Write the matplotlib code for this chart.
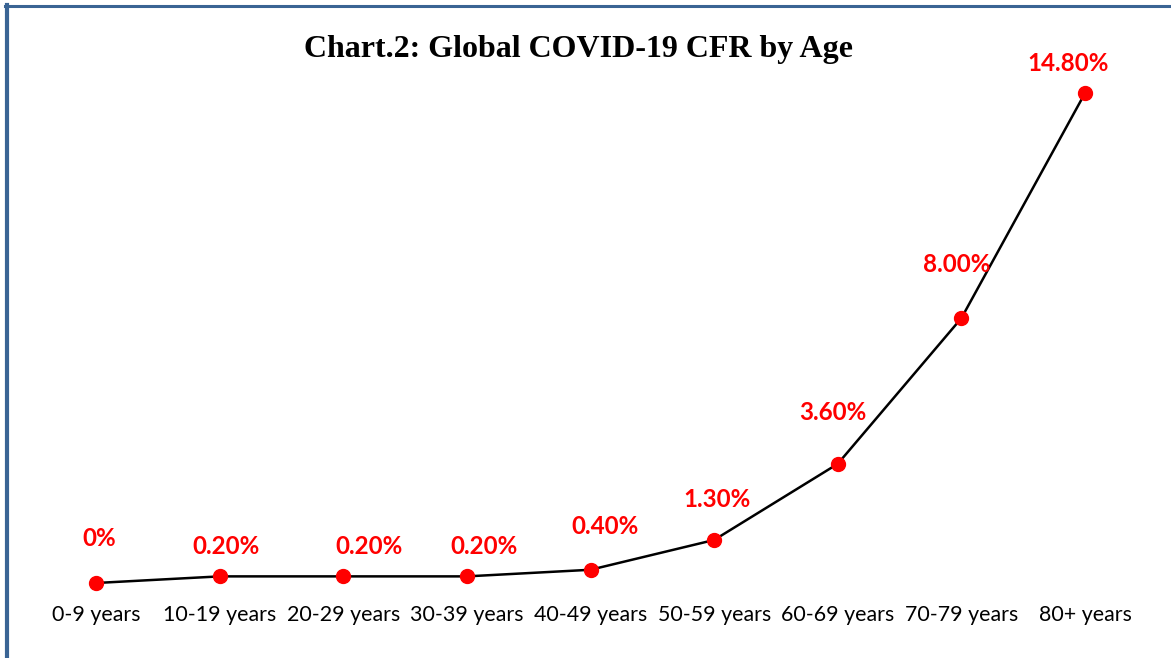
import matplotlib
matplotlib.use("Agg")
import matplotlib.pyplot as plt
from matplotlib.lines import Line2D

# 数据
age_groups = ["0-9 years", "10-19 years", "20-29 years", "30-39 years", "40-49 years",
              "50-59 years", "60-69 years", "70-79 years", "80+ years"]
cfr_pct = [0.0, 0.2, 0.2, 0.2, 0.4, 1.3, 3.6, 8.0, 14.8]
cfr_labels = ["0%", "0.20%", "0.20%", "0.20%", "0.40%", "1.30%", "3.60%", "8.00%", "14.80%"]

# 标签偏移 (像素, 手动放置)
label_dx = [3, 6, 26, 17, 14, 3, -5, -5, -17]
label_dy = [45, 30, 30, 30, 43, 40, 51, 54, 30]

W, H = 1171, 658
fig = plt.figure(figsize=(W / 100, H / 100), dpi=100)
fig.patch.set_facecolor("white")

# 坐标轴位置 (像素换算)
x0_px, x8_px = 96, 1085
step = (x8_px - x0_px) / 8
left_px = x0_px - 0.5 * step
right_px = x8_px + 0.5 * step
y_bottom_px, px_per_pct = 583, 33.1
ymax = 15
y_top_px = y_bottom_px - ymax * px_per_pct
ax = fig.add_axes([left_px / W, (H - y_bottom_px) / H,
                   (right_px - left_px) / W, (y_bottom_px - y_top_px) / H])
ax.set_xlim(-0.5, 8.5)
ax.set_ylim(0, ymax)

xs = list(range(len(age_groups)))
ax.plot(xs, cfr_pct, color="black", lw=1.8, marker="o", markersize=10,
        markerfacecolor="#FF0000", markeredgecolor="#FF0000", clip_on=False, zorder=3)

for x, y, lab, dx, dy in zip(xs, cfr_pct, cfr_labels, label_dx, label_dy):
    ax.annotate(lab, (x, y), xytext=(dx, dy), textcoords="offset pixels",
                ha="center", va="center", color="#FF0000", fontsize=17.4,
                fontweight="bold", family=["Lato", "DejaVu Sans"])

ax.set_xticks(xs)
ax.set_xticklabels(age_groups, family=["Lato", "DejaVu Sans"], fontsize=15.4)
ax.tick_params(axis="x", length=0, pad=16)
ax.set_yticks([])
for s in ax.spines.values():
    s.set_visible(False)
ax.patch.set_alpha(0)

fig.text(578 / W, 1 - 50 / H, "Chart.2: Global COVID-19 CFR by Age",
         ha="center", va="center", fontsize=23, fontweight="bold",
         family=["Liberation Serif", "DejaVu Serif"])

# 边框 (左, 上)
border_col = "#3A6494"
fig.add_artist(Line2D([6.5 / W, 6.5 / W], [0, 1 - 5 / H], color=border_col, lw=3.0,
                      transform=fig.transFigure))
fig.add_artist(Line2D([5 / W, 1], [1 - 6 / H, 1 - 6 / H], color=border_col, lw=2.2,
                      transform=fig.transFigure))

fig.savefig("out.png", dpi=100)
